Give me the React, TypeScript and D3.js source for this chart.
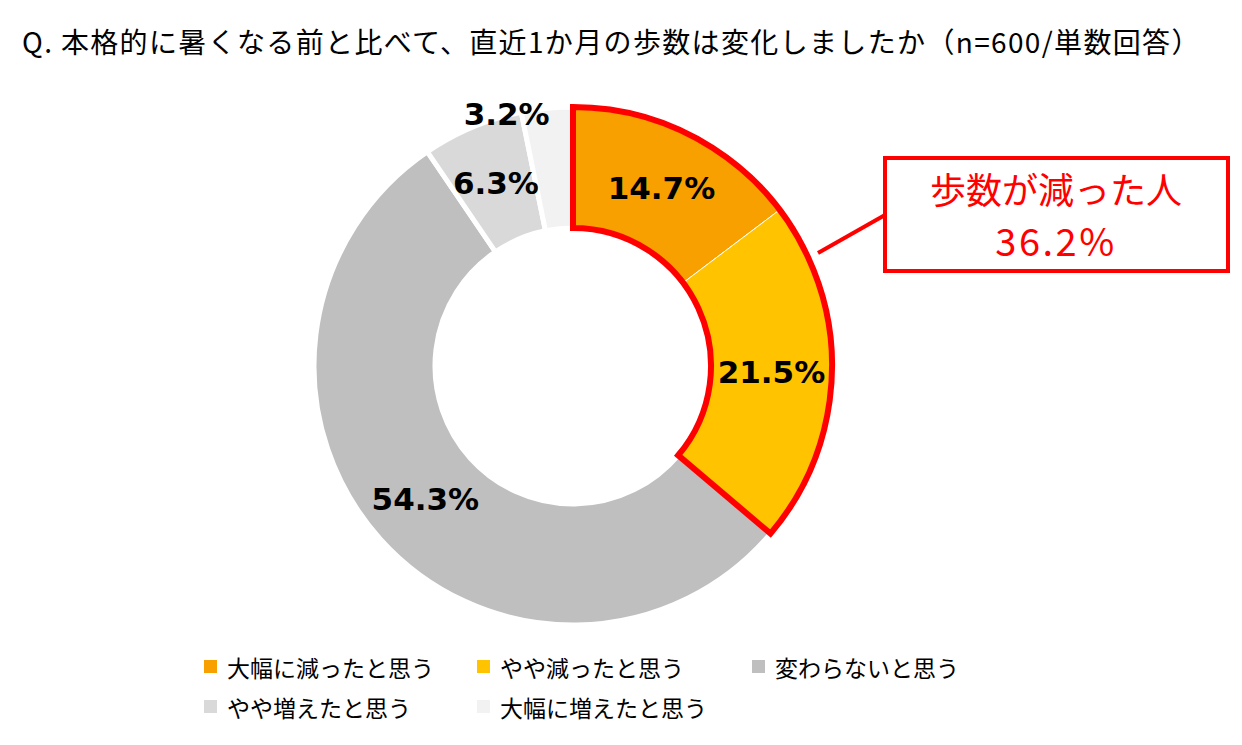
import React from 'react';
import * as d3 from 'd3';

// Survey answers (n=600), clockwise from 12 o'clock
const categories = ['大幅に減ったと思う', 'やや減ったと思う', '変わらないと思う', 'やや増えたと思う', '大幅に増えたと思う'];
const shares = [14.7, 21.5, 54.3, 6.3, 3.2];
const colors = ['#F7A000', '#FFC300', '#BFBFBF', '#D9D9D9', '#F2F2F2'];

const titleText = 'Q. 本格的に暑くなる前と比べて、直近1か月の歩数は変化しましたか（n=600/単数回答）';
const calloutLines = ['歩数が減った人', '36.2%'];

const width = 1242;
const height = 745;
const cx = 573;
const cy = 366;
const outerR = 259;
const innerR = 138;

const jpFont = '"Noto Sans CJK JP", "Noto Sans", sans-serif';
const numFont = '"DejaVu Sans", Verdana, sans-serif';

export default function App() {
  const pie = d3.pie<number>().sort(null).value(d => d);
  const arcs = pie(shares);

  const arc = d3.arc<d3.PieArcDatum<number>>()
    .innerRadius(innerR)
    .outerRadius(outerR);

  // outline around the two "decreased" slices
  const decreasedEnd = arcs[1].endAngle;
  const outline = d3.arc()({
    innerRadius: innerR,
    outerRadius: outerR,
    startAngle: 0,
    endAngle: decreasedEnd,
  }) as string;

  const labelPos = (i: number): [number, number] => {
    const a = arcs[i];
    if (i === arcs.length - 1) {
      // small slice: label sits above the ring
      const mid = (a.startAngle + a.endAngle) / 2;
      return [Math.sin(mid) * (outerR + 4) - 40, -Math.cos(mid) * (outerR + 4) + 10];
    }
    return arc.centroid(a) as [number, number];
  };

  // legend layout
  const legendCols = [204, 477, 752];
  const legendRows = [667, 707];

  return (
    <svg
      width={width}
      height={height}
      viewBox={`0 0 ${width} ${height}`}
      style={{ position: 'fixed', left: 0, top: 0, background: '#fff' }}
    >
      <text x={22} y={53} fontFamily={jpFont} fontSize={28} letterSpacing={1.35} fill="#000">
        {titleText}
      </text>

      <g transform={`translate(${cx}, ${cy})`}>
        {arcs.map((a, i) => (
          <path
            key={categories[i]}
            d={arc(a) as string}
            fill={colors[i]}
            stroke="#fff"
            strokeWidth={i < 2 ? 1 : 5}
          />
        ))}
        <path d={outline} fill="none" stroke="#FF0000" strokeWidth={6} strokeLinejoin="miter" />
        {arcs.map((a, i) => {
          const [x, y] = labelPos(i);
          return (
            <text
              key={`lbl-${i}`}
              x={x}
              y={y}
              textAnchor="middle"
              dominantBaseline="central"
              fontFamily={numFont}
              fontWeight="bold"
              fontSize={31}
              fill="#000"
            >
              {`${a.data.toFixed(1)}%`}
            </text>
          );
        })}
      </g>

      {/* callout */}
      <line x1={818} y1={253} x2={885} y2={215} stroke="#FF0000" strokeWidth={4} />
      <rect x={885} y={158} width={343} height={113} fill="#fff" stroke="#FF0000" strokeWidth={4} />
      {calloutLines.map((t, i) => (
        <text
          key={t}
          x={1056}
          y={i === 0 ? 204 : 256}
          textAnchor="middle"
          fontFamily={jpFont}
          fontSize={i === 0 ? 36 : 38}
          letterSpacing={i === 0 ? 0 : 2.5}
          fill="#FF0000"
        >
          {t}
        </text>
      ))}

      {/* legend */}
      {categories.map((c, i) => {
        const x = legendCols[i % 3];
        const y = legendRows[Math.floor(i / 3)];
        return (
          <g key={`leg-${c}`} transform={`translate(${x}, ${y})`}>
            <rect x={0} y={-7} width={13} height={13} fill={colors[i]} />
            <text x={23} y={0} dominantBaseline="central" fontFamily={jpFont} fontSize={23} fill="#000">
              {c}
            </text>
          </g>
        );
      })}
    </svg>
  );
}
